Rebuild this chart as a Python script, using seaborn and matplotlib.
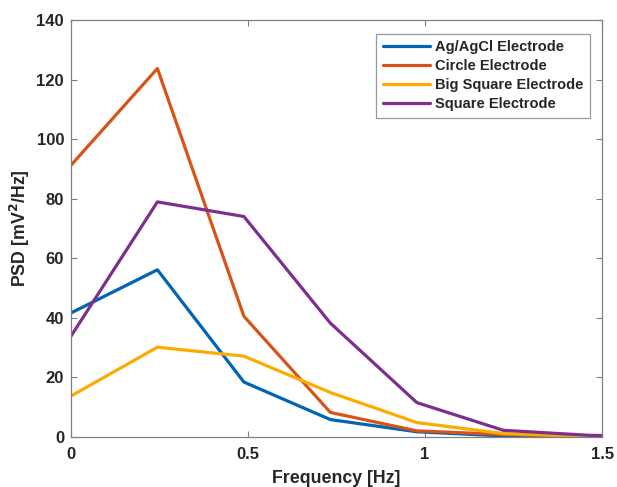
import numpy as np
import pandas as pd
import matplotlib
matplotlib.use("Agg")
import matplotlib.pyplot as plt
import seaborn as sns

freq = [0.0, 0.2441, 0.4883, 0.7324, 0.9766, 1.2207, 1.4648, 1.7090]
agagcl = [41.6, 56.1, 18.4, 5.8, 1.7, 0.3, 0.1, 0.0]
circle = [91.2, 123.7, 40.5, 8.2, 2.0, 0.8, 0.1, 0.0]
big_square = [13.7, 30.1, 27.1, 14.9, 4.8, 1.1, 0.1, 0.0]
square = [33.8, 78.9, 74.0, 38.2, 11.5, 2.2, 0.5, 0.1]
names = ["Ag/AgCl Electrode", "Circle Electrode", "Big Square Electrode", "Square Electrode"]
colors = ["#0064B6", "#D95319", "#FAAC00", "#7E2F8E"]
xticks = [0, 0.5, 1, 1.5]
xtick_labels = ["0", "0.5", "1", "1.5"]
yticks = [0, 20, 40, 60, 80, 100, 120, 140]

sns.set_theme(style="white")
plt.rcParams['font.family'] = ['Liberation Sans', 'DejaVu Sans']

rows = []
for name, vals in zip(names, [agagcl, circle, big_square, square]):
    for f, v in zip(freq, vals):
        rows.append({"Frequency": f, "PSD": v, "Electrode": name})
df = pd.DataFrame(rows)

fig = plt.figure(figsize=(6.17, 4.87), dpi=100)
ax = fig.add_axes([0.115, 0.103, 0.861, 0.856])
sns.lineplot(data=df, x="Frequency", y="PSD", hue="Electrode", hue_order=names,
             palette=colors, linewidth=2.3, ax=ax, legend=True, sort=False)

ax.set_xlim(0, 1.5)
ax.set_ylim(0, 140)
ax.set_xticks(xticks)
ax.set_xticklabels(xtick_labels)
ax.set_yticks(yticks)
for lab in ax.get_xticklabels() + ax.get_yticklabels():
    lab.set_fontweight("bold")
    lab.set_fontsize(12)
    lab.set_color("#262626")
ax.tick_params(direction="in", length=4, width=0.8, color="#808080",
               top=True, right=True, bottom=True, left=True)
ax.tick_params(axis="x", pad=7)
ax.tick_params(axis="y", pad=5)
for s in ax.spines.values():
    s.set_color("#808080")
    s.set_linewidth(0.9)
ax.set_xlabel("Frequency [Hz]", fontsize=12.8, fontweight="bold", color="#262626", labelpad=6)
ax.set_ylabel("PSD [mV$^\\mathbf{2}$/Hz]", fontsize=12.8, fontweight="bold", color="#262626", labelpad=3)

leg = ax.legend(loc="upper right", bbox_to_anchor=(0.99, 0.985), frameon=True, fancybox=False,
                prop={"weight": "bold", "size": 10.5}, handlelength=3.2, handletextpad=0.35,
                labelspacing=0.35, borderpad=0.45, title=None)
leg.get_frame().set_edgecolor("#808080")
leg.get_frame().set_linewidth(0.9)
for line in leg.get_lines():
    line.set_linewidth(2.3)

fig.savefig("out.png", dpi=100)
